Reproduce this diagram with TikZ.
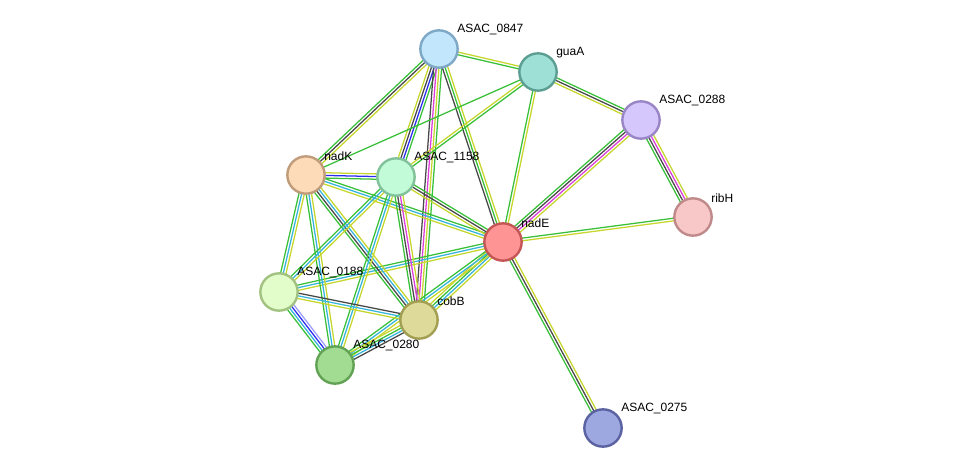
\documentclass[tikz,border=0pt]{standalone}
\usepackage{fontspec}
\setmainfont{Liberation Sans}
\usetikzlibrary{calc,backgrounds}
\definecolor{eg}{HTML}{38C038}
\definecolor{ey}{HTML}{C6D62C}
\definecolor{ek}{HTML}{484848}
\definecolor{eb}{HTML}{2C2CF0}
\definecolor{em}{HTML}{DC3CDC}
\definecolor{ec}{HTML}{34B4DC}
\definecolor{el}{HTML}{9C9CFF}
\tikzset{
  prot/.style={circle,minimum size=28pt,inner sep=0pt,line width=1.8pt},
  edgeline/.style={line width=0.95pt},
  lab/.style={anchor=west,font=\fontsize{9}{10}\selectfont,inner sep=0pt}
}
\newcommand\sedge[4]{%
  \foreach \c [count=\i] in {#4} {
    \pgfmathsetmacro\off{(\i-(#3+1)/2)*2.0}
    \draw[\c,edgeline] ($(#1.center)!\off pt!90:(#2.center)$) -- ($(#2.center)!\off pt!-90:(#1.center)$);
  }}
\newcommand\prot[6]{%
  \definecolor{fill#1}{HTML}{#4}%
  \definecolor{draw#1}{HTML}{#5}%
  \node[prot,fill=fill#1,draw=draw#1] (#1) at (#2,#3) {};
  \node[lab] (lab#1) at (#2+18,#3-19) {#6};}
\begin{document}
\begin{tikzpicture}[x=0.75pt,y=-0.75pt]
\useasboundingbox (0,0) rectangle (976,474);
\prot{a0847}{439}{49}{C2E6FB}{7DA8C6}{ASAC\_0847}
\prot{guaA}{538}{72}{9FE0D6}{5C9E92}{guaA}
\prot{a0288}{641}{120}{D5C6FC}{9A86C6}{ASAC\_0288}
\prot{ribH}{693}{217}{F8C8C8}{C08A8A}{ribH}
\prot{nadE}{503}{242}{FF9494}{C45656}{nadE}
\prot{nadK}{306}{175}{FDDAB8}{C09C7A}{nadK}
\prot{a1158}{396}{177}{C2FBD8}{82C29A}{ASAC\_1158}
\prot{a0188}{279}{292}{E2FCCA}{A2C282}{ASAC\_0188}
\prot{cobB}{419}{320}{DEDB9A}{A29E52}{cobB}
\prot{a0280}{335}{365}{A2DC92}{62A254}{ASAC\_0280}
\prot{a0275}{603}{428}{9EA8E0}{5A62A2}{ASAC\_0275}
\begin{pgfonlayer}{background}
\sedge{a0847}{guaA}{2}{eg,ey}
\sedge{a0847}{nadK}{3}{eg,ek,ey}
\sedge{a0847}{a1158}{4}{ey,ek,eb,eg}
\sedge{a0847}{cobB}{4}{ek,em,ey,eg}
\sedge{a0847}{nadE}{3}{ek,eg,ey}
\sedge{guaA}{a0288}{3}{ey,ek,eg}
\sedge{guaA}{nadE}{2}{eg,ey}
\sedge{guaA}{nadK}{1}{eg}
\sedge{guaA}{a1158}{2}{ey,eg}
\sedge{a0288}{nadE}{4}{eg,ek,em,ey}
\sedge{a0288}{ribH}{4}{eg,ek,em,ey}
\sedge{ribH}{nadE}{2}{eg,ey}
\sedge{nadE}{a0275}{3}{eg,ek,ey}
\sedge{nadE}{nadK}{3}{eg,ec,ey}
\sedge{nadE}{a1158}{3}{eg,ek,ey}
\sedge{nadE}{a0188}{3}{eg,ec,ey}
\sedge{nadE}{cobB}{4}{ey,eg,ec,ey}
\sedge{nadE}{a0280}{3}{eg,ec,ey}
\sedge{nadK}{a1158}{3}{eg,eb,ey}
\sedge{nadK}{a0188}{3}{eg,ec,ey}
\sedge{nadK}{a0280}{3}{eg,ec,ey}
\sedge{nadK}{cobB}{4}{eg,ek,ec,ey}
\sedge{a1158}{cobB}{4}{eg,ek,em,ey}
\sedge{a1158}{a0188}{3}{eg,ec,ey}
\sedge{a1158}{a0280}{3}{eg,ec,ey}
\sedge{a0188}{cobB}{3}{ey,ec,ek}
\sedge{a0188}{a0280}{4}{eg,ec,eb,el}
\sedge{cobB}{a0280}{4}{ey,eg,ec,ek}
\end{pgfonlayer}
\end{tikzpicture}
\end{document}
